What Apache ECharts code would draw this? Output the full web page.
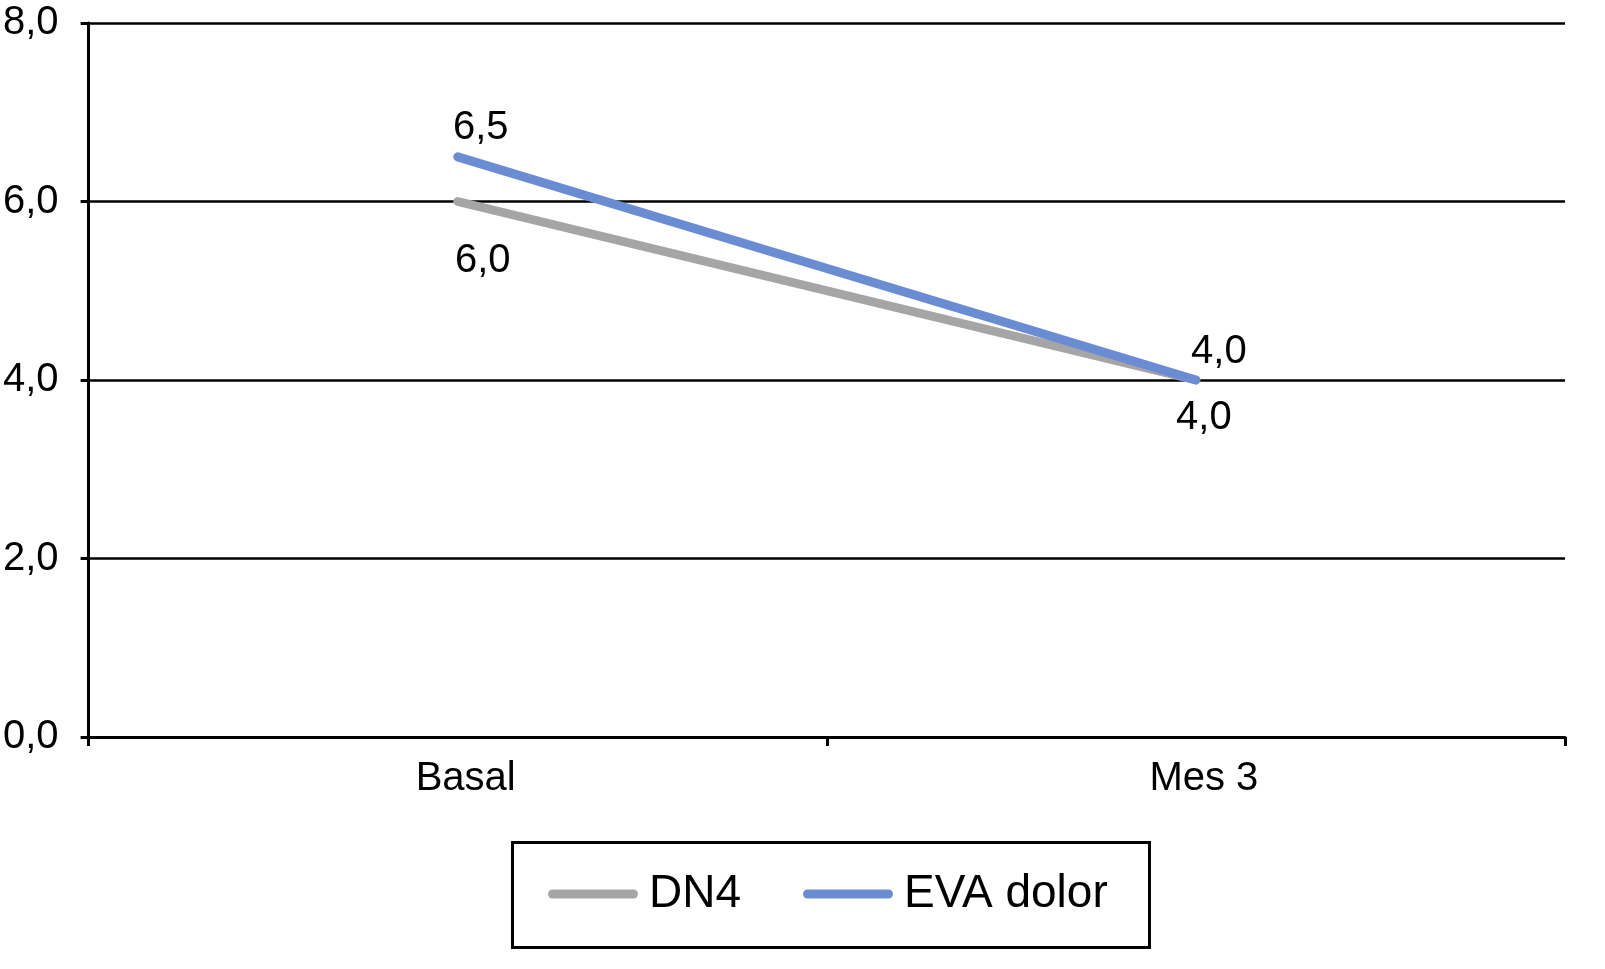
<!DOCTYPE html>
<html><head><meta charset="utf-8">
<script src="https://cdn.jsdelivr.net/npm/echarts@6/dist/echarts.min.js"></script>
<style>html,body{margin:0;padding:0;background:#fff}#c{width:1605px;height:969px}</style>
</head><body><div id="c"></div>
<script>
const categories = ['Basal', 'Mes 3'];
const dn4 = [6.0, 4.0];
const eva = [6.5, 4.0];
const yTicks = [0, 2, 4, 6, 8];
const seriesNames = ['DN4', 'EVA dolor'];

const fmt = v => v.toFixed(1).replace('.', ',');
const FONT = 'Liberation Sans, Arial, sans-serif';
const chart = echarts.init(document.getElementById('c'));
const lineIcon = 'path://M4.5,0 H85.5 A4.5,4.5 0 0 1 85.5,9 H4.5 A4.5,4.5 0 0 1 4.5,0 Z';

chart.setOption({
  animation: false,
  grid: { left: 85, right: 40, top: 23, bottom: 232, containLabel: false },
  xAxis: {
    type: 'category', data: categories, boundaryGap: true,
    axisLine: { lineStyle: { color: '#000', width: 3 } },
    axisTick: { show: true, length: 9, lineStyle: { color: '#000', width: 3 } },
    axisLabel: { color: '#000', fontSize: 40, fontFamily: FONT, margin: 22, padding: [0, 0, 0, 16] }
  },
  yAxis: {
    type: 'value', min: yTicks[0], max: yTicks[yTicks.length - 1], interval: 2,
    axisLine: { show: true, lineStyle: { color: '#000', width: 3 } },
    axisTick: { show: true, length: 8, lineStyle: { color: '#000', width: 3 } },
    splitLine: { lineStyle: { color: '#000', width: 2.5 } },
    axisLabel: { color: '#000', fontSize: 40, fontFamily: FONT, margin: 30, formatter: v => fmt(v) }
  },
  legend: {
    left: 548, top: 869, padding: 0, itemGap: 62,
    itemWidth: 90, itemHeight: 9,
    textStyle: { color: '#000', fontSize: 46, fontFamily: FONT, padding: [0, 0, 0, 6], lineHeight: 50 },
    data: [{ name: seriesNames[0], icon: lineIcon }, { name: seriesNames[1], icon: lineIcon }]
  },
  graphic: [{
    type: 'rect', left: 510, top: 840,
    shape: { width: 637, height: 105 },
    style: { fill: 'none', stroke: '#000', lineWidth: 3 }, z: 100
  }],
  series: [
    {
      name: seriesNames[0], type: 'line', data: dn4.map((v, i) => ({
        value: v,
        label: { offset: [[25, 59], [8, 38]][i] }
      })),
      symbol: 'circle', symbolSize: 1, showSymbol: true,
      itemStyle: { color: '#A5A5A5' },
      lineStyle: { color: '#A5A5A5', width: 9, cap: 'round' },
      label: { show: true, position: 'inside', color: '#000', fontSize: 40, fontFamily: FONT, formatter: p => fmt(p.value) },
      z: 2
    },
    {
      name: seriesNames[1], type: 'line', data: eva.map((v, i) => ({
        value: v,
        label: { offset: [[23, -29], [23, -28]][i] }
      })),
      symbol: 'circle', symbolSize: 1, showSymbol: true,
      itemStyle: { color: '#6A8CD2' },
      lineStyle: { color: '#6A8CD2', width: 9, cap: 'round' },
      label: { show: true, position: 'inside', color: '#000', fontSize: 40, fontFamily: FONT, formatter: p => fmt(p.value) },
      z: 3
    }
  ]
});
</script></body></html>
